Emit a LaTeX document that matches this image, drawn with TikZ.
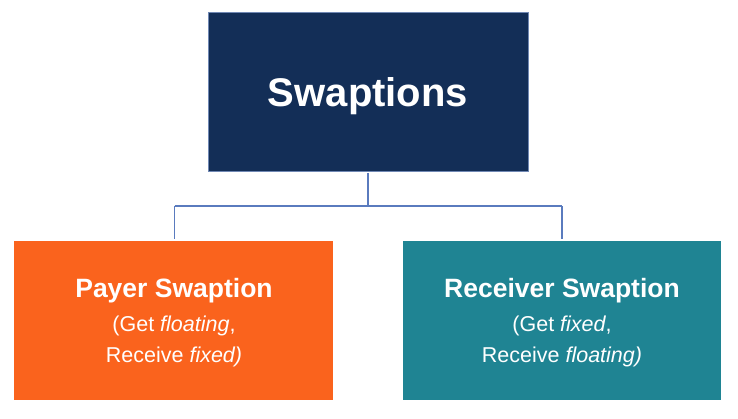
\documentclass[tikz,border=0pt]{standalone}
\usepackage{fontspec}
\setmainfont{Liberation Sans}
\definecolor{navy}{HTML}{132E57}
\definecolor{orng}{HTML}{FA631D}
\definecolor{teal2}{HTML}{1F8493}
\definecolor{conn}{HTML}{5A7BBE}
\definecolor{edge}{HTML}{7088B4}
\begin{document}
\begin{tikzpicture}[x=1pt,y=-1pt,
  boxstyle/.style={draw=edge,line width=0.6pt,minimum width=#1,inner sep=0pt},
  connstyle/.style={draw=conn,line width=1.6pt},
  txt/.style={text=white,anchor=base,inner sep=0pt}]
\useasboundingbox (0,0) rectangle (738,418);
\fill[white] (0,0) rectangle (738,418);
\node[boxstyle=320pt,fill=navy,minimum height=159pt] (top) at (368,91.5) {};
\node[fill=orng,minimum width=319pt,minimum height=159pt,inner sep=0pt] (left) at (173.5,320.5) {};
\node[fill=teal2,minimum width=318pt,minimum height=159pt,inner sep=0pt] (right) at (562,320.5) {};
\coordinate (mid) at (368,206);
\coordinate (lj) at (174.5,206);
\coordinate (rj) at (562,206);
\draw[connstyle] ([yshift=-1.5pt]top.south) -- (mid);
\draw[connstyle] (lj) -- (rj);
\draw[connstyle] (lj) -- ([yshift=2pt]lj |- left.north);
\draw[connstyle] (rj) -- ([yshift=2pt]rj |- right.north);
\node[txt,font=\bfseries\fontsize{40}{40}\selectfont] (t0) at (368,106) {Swaptions};
\node[txt,font=\bfseries\fontsize{26.5}{26.5}\selectfont] (l1) at (174,297) {Payer Swaption};
\node[txt,font=\fontsize{21.5}{21.5}\selectfont] (l2) at (174,331) {(Get \textit{floating},};
\node[txt,font=\fontsize{21.5}{21.5}\selectfont] (l3) at (174,362) {Receive \textit{fixed)}};
\node[txt,font=\bfseries\fontsize{26.5}{26.5}\selectfont] (r1) at (562,297) {Receiver Swaption};
\node[txt,font=\fontsize{21.5}{21.5}\selectfont] (r2) at (562,331) {(Get \textit{fixed},};
\node[txt,font=\fontsize{21.5}{21.5}\selectfont] (r3) at (562,362) {Receive \textit{floating)}};
\end{tikzpicture}
\end{document}
